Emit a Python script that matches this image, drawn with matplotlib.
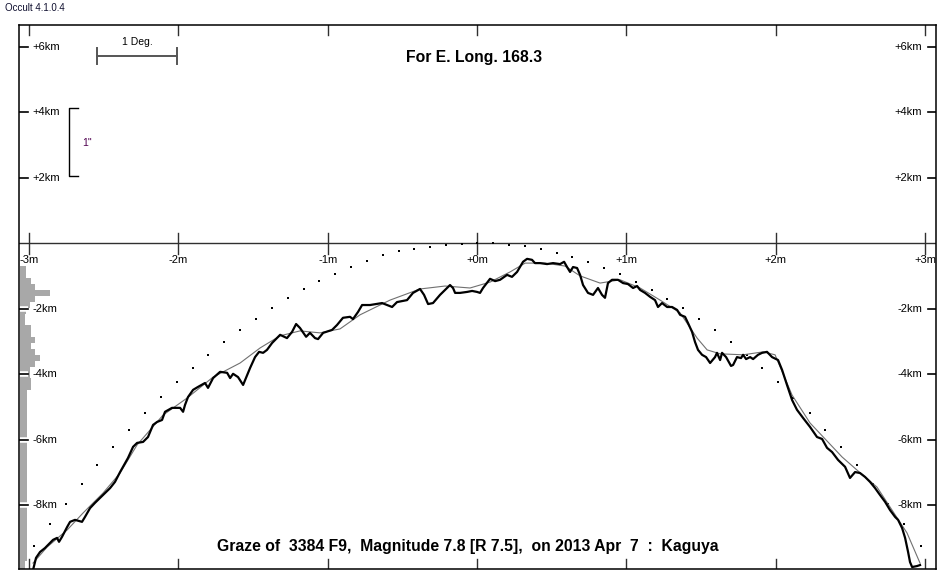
import matplotlib.pyplot as plt
import numpy as np

plt.rcParams['font.family'] = ['Liberation Sans', 'DejaVu Sans']

# observed profile (thick line): minutes, km
prof_x = [-2.974, -2.954, -2.927, -2.894, -2.860, -2.840, -2.813, -2.800, -2.780, -2.746,
          -2.726, -2.693, -2.646, -2.626, -2.592, -2.559, -2.525, -2.492, -2.458, -2.425,
          -2.391, -2.371, -2.338, -2.304, -2.277, -2.237, -2.204, -2.170, -2.143, -2.110,
          -2.090, -2.043, -1.989, -1.969, -1.956, -1.936, -1.902, -1.869, -1.822, -1.802,
          -1.768, -1.721, -1.674, -1.654, -1.634, -1.601, -1.567, -1.520, -1.487, -1.460,
          -1.433, -1.407, -1.373, -1.319, -1.273, -1.239, -1.212, -1.186, -1.145, -1.119,
          -1.085, -1.065, -1.031, -0.971, -0.938, -0.898, -0.851, -0.831, -0.797, -0.770,
          -0.717, -0.636, -0.603, -0.569, -0.536, -0.469, -0.429, -0.382, -0.355, -0.328,
          -0.295, -0.248, -0.214, -0.181, -0.161, -0.147, -0.114, -0.067, -0.033, 0.000,
          0.020, 0.040, 0.087, 0.121, 0.154, 0.201, 0.234, 0.268, 0.308, 0.335,
          0.368, 0.388, 0.422, 0.469, 0.509, 0.556, 0.583, 0.603, 0.623, 0.643,
          0.670, 0.690, 0.710, 0.743, 0.777, 0.810, 0.837, 0.857, 0.877, 0.904,
          0.944, 0.978, 1.011, 1.045, 1.072, 1.092, 1.125, 1.159, 1.192, 1.212,
          1.239, 1.273, 1.306, 1.340, 1.360, 1.393, 1.413, 1.440, 1.460, 1.480,
          1.507, 1.534, 1.561, 1.594, 1.607, 1.628, 1.641, 1.668, 1.701, 1.715,
          1.741, 1.768, 1.782, 1.802, 1.829, 1.849, 1.882, 1.909, 1.942, 1.976,
          2.016, 2.043, 2.076, 2.110, 2.143, 2.184, 2.230, 2.277, 2.311, 2.344,
          2.378, 2.418, 2.465, 2.498, 2.532, 2.565, 2.599, 2.632, 2.666, 2.699,
          2.733, 2.766, 2.800, 2.820, 2.847, 2.867, 2.887, 2.900, 2.914, 2.947, 2.967]
prof_y = [-9.97, -9.60, -9.42, -9.30, -9.14, -9.05, -8.99, -9.11, -8.96, -8.66,
          -8.50, -8.44, -8.50, -8.35, -8.08, -7.92, -7.77, -7.62, -7.47, -7.28,
          -6.98, -6.82, -6.55, -6.21, -6.09, -6.06, -5.91, -5.54, -5.45, -5.39,
          -5.14, -5.02, -5.02, -5.14, -4.93, -4.69, -4.47, -4.38, -4.26, -4.41,
          -4.11, -3.92, -3.95, -4.11, -3.98, -4.08, -4.32, -3.80, -3.47, -3.31,
          -3.34, -3.25, -3.04, -2.79, -2.89, -2.70, -2.46, -2.58, -2.85, -2.73,
          -2.89, -2.92, -2.73, -2.64, -2.49, -2.27, -2.24, -2.31, -2.09, -1.88,
          -1.88, -1.82, -1.88, -1.94, -1.79, -1.73, -1.51, -1.39, -1.57, -1.85,
          -1.82, -1.57, -1.42, -1.27, -1.36, -1.51, -1.51, -1.48, -1.45, -1.48,
          -1.51, -1.36, -1.08, -1.15, -1.11, -0.96, -1.02, -0.87, -0.56, -0.47,
          -0.50, -0.60, -0.60, -0.63, -0.60, -0.63, -0.56, -0.72, -0.87, -0.72,
          -0.75, -0.96, -1.27, -1.51, -1.57, -1.36, -1.57, -1.66, -1.21, -1.11,
          -1.11, -1.21, -1.24, -1.36, -1.30, -1.42, -1.51, -1.63, -1.73, -1.94,
          -1.82, -1.94, -1.94, -2.03, -2.18, -2.24, -2.43, -2.70, -3.01, -3.25,
          -3.40, -3.47, -3.65, -3.47, -3.34, -3.56, -3.34, -3.47, -3.74, -3.71,
          -3.47, -3.50, -3.40, -3.53, -3.47, -3.53, -3.40, -3.34, -3.31, -3.47,
          -3.56, -3.86, -4.32, -4.78, -5.08, -5.33, -5.60, -5.91, -5.97, -6.24,
          -6.37, -6.61, -6.82, -7.16, -6.98, -7.01, -7.13, -7.28, -7.47, -7.68,
          -7.89, -8.14, -8.35, -8.44, -8.69, -8.99, -9.42, -9.73, -9.88, -9.85, -9.82]

# smoothed profile (thin grey line)
smooth_x = [-2.974, -2.880, -2.746, -2.639, -2.505, -2.391, -2.277, -2.103, -1.942, -1.768,
            -1.587, -1.453, -1.319, -1.186, -1.052, -0.918, -0.784, -0.583, -0.382, -0.214,
            -0.047, 0.087, 0.221, 0.322, 0.455, 0.589, 0.690, 0.824, 0.958, 1.092,
            1.226, 1.360, 1.474, 1.541, 1.628, 1.782, 1.916, 1.996, 2.110, 2.230,
            2.445, 2.545, 2.679, 2.880, 2.967]
smooth_y = [-9.76, -9.27, -8.75, -8.23, -7.62, -7.01, -6.15, -5.24, -4.72, -4.08,
            -3.65, -3.19, -2.82, -2.67, -2.73, -2.61, -2.18, -1.73, -1.39, -1.30,
            -1.36, -1.18, -0.87, -0.60, -0.60, -0.69, -0.99, -1.21, -1.11, -1.36,
            -1.73, -2.12, -2.89, -3.25, -3.37, -3.40, -3.31, -3.40, -4.63, -5.48,
            -6.52, -6.92, -7.44, -8.84, -9.76]

# dotted limb line
dot_x = [-2.967, -2.860, -2.753, -2.646, -2.545, -2.438, -2.331, -2.224, -2.117, -2.009,
         -1.902, -1.802, -1.695, -1.587, -1.480, -1.373, -1.266, -1.159, -1.058, -0.951,
         -0.844, -0.737, -0.630, -0.522, -0.422, -0.315, -0.208, -0.100, 0.000, 0.107,
         0.214, 0.322, 0.429, 0.536, 0.636, 0.743, 0.851, 0.958, 1.065, 1.172,
         1.273, 1.380, 1.487, 1.594, 1.701, 1.808, 1.909, 2.016, 2.117, 2.230,
         2.331, 2.438, 2.545, 2.652, 2.753, 2.860, 2.974]
dot_y = [-9.24, -8.57, -7.95, -7.34, -6.76, -6.21, -5.70, -5.18, -4.69, -4.23,
         -3.80, -3.41, -3.01, -2.64, -2.31, -1.97, -1.66, -1.39, -1.15, -0.93,
         -0.72, -0.53, -0.35, -0.23, -0.17, -0.11, -0.05, -0.02, 0.02, 0.02,
         -0.05, -0.08, -0.17, -0.29, -0.41, -0.57, -0.75, -0.93, -1.18, -1.42,
         -1.70, -1.97, -2.31, -2.64, -3.01, -3.41, -3.80, -4.23, -4.72, -5.18,
         -5.70, -6.21, -6.76, -7.34, -7.95, -8.57, -9.24]

# residual histogram down the left edge (bins of 0.18 km from -0.70 km)
hist_counts = [6, 6, 11, 15, 30, 15, 10, 6, 5, 5,
               11, 11, 15, 11, 15, 20, 15, 10, 10, 11,
               11, 7, 7, 7, 7, 7, 7, 7, 7, 7,
               7, 7, 7, 7, 7, 7, 7, 7, 7, 7,
               7, 7, 7, 7, 7, 7, 7, 7, 7, 7,
               5, 5]

minute_ticks = [-3, -2, -1, 0, 1, 2, 3]
minute_labels = ['-3m', '-2m', '-1m', '+0m', '+1m', '+2m', '+3m']
km_ticks = [6, 4, 2, -2, -4, -6, -8]
km_labels = ['+6km', '+4km', '+2km', '-2km', '-4km', '-6km', '-8km']

x0, x1 = -3.068, 3.074
y0, y1 = -9.94, 6.67

fig = plt.figure(figsize=(9.5, 5.8), dpi=100)
ax = fig.add_axes([19 / 950, 11 / 580, 917 / 950, 544 / 580])
ax.set_xlim(x0, x1)
ax.set_ylim(y0, y1)
ax.set_xticks([])
ax.set_yticks([])
for s in ax.spines.values():
    s.set_linewidth(1.1)
    s.set_color('black')

fig.text(5 / 950, 1 - 8 / 580, 'Occult 4.1.0.4', fontsize=7, va='center', color='#101030')

# histogram
hist_top = -0.70
bin_h = 0.18
px_min = 1 / 149.3
for i, c in enumerate(hist_counts):
    top = hist_top - i * bin_h
    ax.barh(top - bin_h / 2, c * px_min, height=bin_h, left=x0 + px_min,
            color='#a8a8a8', edgecolor='none', zorder=1)

# zero line with minute ticks
ax.axhline(0, color='#303030', lw=1.0, zorder=2)
for m, lab in zip(minute_ticks, minute_labels):
    ax.plot([m, m], [-0.33, 0.33], color='#303030', lw=1.0, zorder=2)
    ax.plot([m, m], [y1, y1 - 0.31], color='#303030', lw=1.0)
    ax.plot([m, m], [y0, y0 + 0.31], color='#303030', lw=1.0)
    ax.text(m, -0.52, lab, ha='center', va='center', fontsize=8)

# km ticks both sides
for k, lab in zip(km_ticks, km_labels):
    if k < 0:
        ax.plot([x0, x0 + 9 * px_min], [k, k], color='white', lw=4, zorder=2,
                solid_capstyle='butt')
    ax.plot([x0, x0 + 9 * px_min], [k, k], color='black', lw=1.2, zorder=3)
    ax.plot([x1 - 8 * px_min, x1], [k, k], color='black', lw=1.2, zorder=3)
    ax.text(-2.98, k, lab, ha='left', va='center', fontsize=8, zorder=3)
    ax.text(2.98, k, lab, ha='right', va='center', fontsize=8, zorder=3)

# scale marks
ax.plot([-2.545, -2.009], [5.725, 5.725], color='#555555', lw=1.4)
ax.plot([-2.545, -2.545], [5.48, 5.97], color='#555555', lw=1.4)
ax.plot([-2.009, -2.009], [5.48, 5.97], color='#555555', lw=1.4)
ax.text(-2.277, 6.15, '1 Deg.', ha='center', va='center', fontsize=7.5)
ax.plot([-2.672, -2.733, -2.733, -2.672], [4.14, 4.14, 2.06, 2.06], color='black', lw=1.0)
ax.text(-2.646, 3.07, '1"', ha='left', va='center', fontsize=7.5, color='#500050')

# limb dots, profiles
ax.scatter(dot_x, dot_y, s=2.5, marker='s', color='black', linewidths=0, zorder=4)
ax.plot(smooth_x, smooth_y, color='#707070', lw=0.8, zorder=4)
ax.plot(prof_x, prof_y, color='black', lw=1.6, zorder=5)

ax.text(-0.02, 5.69, 'For E. Long. 168.3', ha='center', va='center',
        fontsize=11.3, fontweight='bold')
ax.text(-0.06, -9.24, 'Graze of  3384 F9,  Magnitude 7.8 [R 7.5],  on 2013 Apr  7  :  Kaguya',
        ha='center', va='center', fontsize=11.3, fontweight='bold', zorder=6)

fig.savefig('out.png', dpi=100, facecolor='white')
